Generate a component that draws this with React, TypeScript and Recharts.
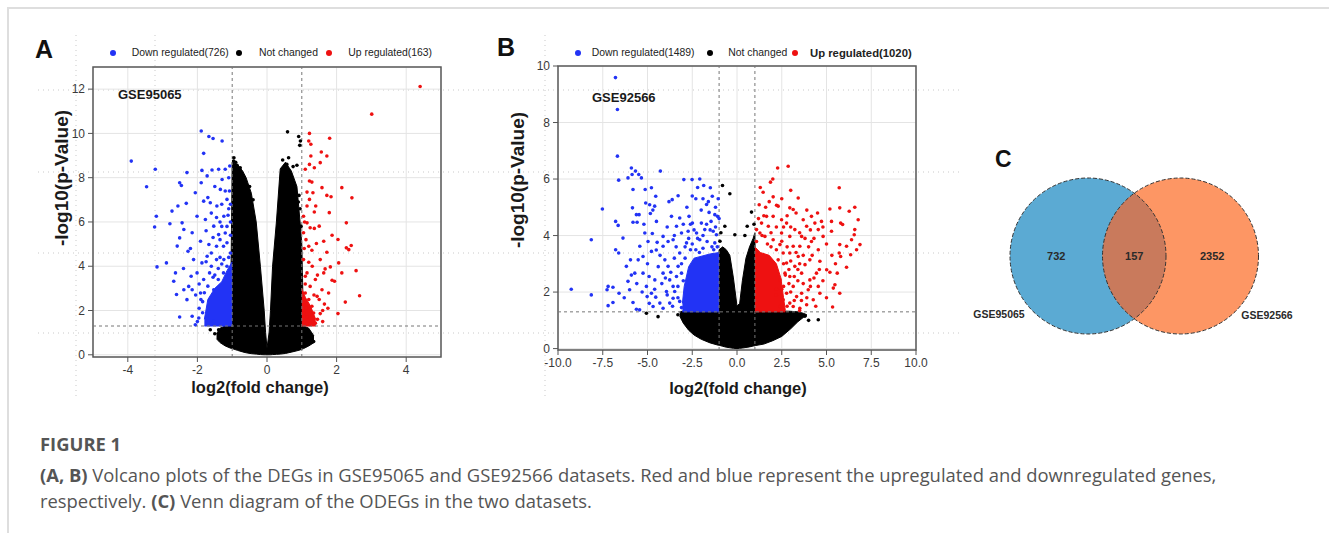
import React from "react";
import {
  ComposedChart, ScatterChart, Area, Scatter, XAxis, YAxis, CartesianGrid,
  ReferenceLine, ReferenceArea,
} from "recharts";

type Pt = [number, number];
type Band = [number, number, number][]; // x, low, high of a dense cloud

// ---- Panel A: GSE95065 ----
const aLegend = ["Down regulated(726)", "Not changed", "Up regulated(163)"];
const aXTicks = [-4, -2, 0, 2, 4];
const aYTicks = [0, 2, 4, 6, 8, 10, 12];

const aFlatBand: Band = [
  [-1.45, 0.72, 0.95], [-1.35, 0.55, 1.2], [-1.2, 0.4, 1.3], [-1.05, 0.3, 1.3],
  [-1.0, 0.28, 8.7], [-0.85, 0.2, 8.6], [-0.7, 0.13, 8.3], [-0.6, 0.09, 8.0],
  [-0.45, 0.05, 7.3], [-0.31, 0.03, 6.0], [-0.19, 0.01, 4.0], [-0.08, 0, 2.0],
  [-0.04, 0, 1.0], [0, 0, 0.3], [0.06, 0, 1.0], [0.1, 0, 2.0],
  [0.16, 0.01, 4.0], [0.27, 0.02, 6.0], [0.38, 0.03, 8.4], [0.53, 0.06, 8.7],
  [0.7, 0.12, 8.3], [0.86, 0.18, 7.6], [0.95, 0.22, 6.0], [1.0, 0.25, 5.0],
  [1.05, 0.28, 1.3], [1.2, 0.4, 1.2], [1.35, 0.55, 0.85],
];
const aDownBand: Band = [
  [-1.8, 1.3, 1.6], [-1.7, 1.3, 2.5], [-1.5, 1.3, 3.0], [-1.3, 1.3, 3.3],
  [-1.15, 1.3, 3.8], [-1.0, 1.3, 4.2],
];
const aUpBand: Band = [
  [1.0, 1.3, 3.0], [1.1, 1.3, 2.6], [1.25, 1.3, 2.2], [1.4, 1.3, 1.6],
];
const aFlat: Pt[] = [
  [0.59, 10.07], [0.91, 9.86], [0.96, 9.66], [0.94, 9.46], [0.86, 8.56], [0.57, 8.6],
  [-0.86, 8.56], [-0.77, 8.45], [-0.96, 8.75], [1.34, 0.6], [1.15, 0.68], [-1.39, 1.13],
  [-1.63, 1.13], [-1.5, 0.95], [0.92, 7.2], [0.95, 6.6], [0.98, 5.8], [0.9, 6.9],
  [-0.5, 7.6], [-0.4, 7.0], [0.45, 8.8], [0.62, 8.9], [0.75, 8.5], [-0.95, 8.9], [-0.9, 8.7],
];
const aDown: Pt[] = [
  [-3.9, 8.75], [-3.46, 7.59], [-3.21, 8.38], [-3.18, 6.26], [-3.23, 5.77], [-3.16, 3.97],
  [-2.89, 4.15], [-2.79, 5.92], [-2.68, 3.32], [-2.6, 2.72], [-2.51, 1.71], [-2.63, 3.7],
  [-2.73, 6.49], [-2.56, 6.72], [-2.51, 7.77], [-2.46, 7.65], [-2.58, 4.91], [-2.51, 5.28],
  [-2.44, 5.96], [-2.39, 5.66], [-2.32, 6.84], [-2.3, 8.23], [-2.27, 4.68], [-2.25, 3.09],
  [-2.15, 1.74], [-2.06, 1.36], [-1.96, 1.66], [-1.89, 10.11], [-1.67, 9.86], [-1.55, 9.77],
  [-1.29, 9.66], [-1.82, 9.1], [-1.87, 8.33], [-1.58, 8.35], [-1.39, 8.38], [-1.2, 8.38],
  [-1.07, 8.53], [-1.89, 7.77], [-1.72, 8.08], [-1.29, 7.92], [-2.06, 7.32], [-1.82, 6.94],
  [-1.63, 6.87], [-1.44, 6.72], [-2.01, 6.26], [-1.77, 6.11], [-1.53, 5.81], [-2.15, 5.51],
  [-1.91, 5.13], [-1.67, 4.98], [-1.39, 5.43], [-2.11, 4.3], [-1.87, 4.15], [-1.72, 4.45],
  [-2.01, 3.7], [-1.82, 3.4], [-2.15, 2.94], [-1.91, 2.79], [-1.53, 2.94], [-1.24, 6.26],
  [-1.15, 7.02], [-1.34, 7.47], [-1.15, 5.06], [-1.24, 4.3], [-1.1, 3.7], [-1.72, 1.74],
  [-1.53, 1.51], [-2.3, 2.49], [-2.39, 2.94], [-2.18, 3.55], [-1.45, 4.9], [-1.35, 4.4],
  [-1.6, 4.0], [-1.5, 3.6], [-1.3, 5.8], [-1.2, 5.5], [-1.45, 6.2], [-1.1, 6.6],
  [-1.2, 7.4], [-1.1, 8.0], [-1.95, 3.2], [-1.85, 2.4], [-1.95, 2.1], [-2.0, 1.5],
  [-1.85, 1.9], [-1.65, 3.7], [-1.4, 3.9], [-1.35, 6.0], [-1.55, 5.3], [-1.25, 4.9],
  [-1.6, 6.4], [-1.75, 5.6], [-1.7, 7.1], [-2.2, 4.8], [-2.4, 3.9],
  [-1.05, 3.9], [-1.05, 4.6], [-1.05, 5.4], [-1.05, 6.0], [-1.1, 4.4], [-1.15, 4.0],
  [-1.3, 4.1], [-1.25, 3.7], [-1.4, 3.4], [-1.55, 3.5], [-1.7, 3.1], [-1.8, 2.8],
  [-1.9, 2.5], [-1.45, 4.3], [-1.6, 4.6], [-1.35, 5.2], [-1.15, 5.8], [-1.05, 6.8],
  [-1.08, 7.4], [-1.12, 6.3], [-1.5, 7.6], [-1.3, 6.8], [-1.75, 4.2], [-2.05, 2.7],
];
const aUp: Pt[] = [
  [4.4, 12.12], [3.01, 10.87], [1.22, 10.0], [1.2, 9.66], [1.26, 9.51], [1.8, 9.78],
  [1.56, 9.16], [1.72, 8.98], [1.26, 8.98], [1.53, 8.68], [1.36, 8.45], [1.22, 8.6],
  [1.1, 8.38], [1.22, 7.85], [1.29, 7.8], [1.58, 7.55], [2.15, 7.55], [1.15, 7.35],
  [1.32, 7.32], [1.72, 7.2], [1.84, 7.14], [2.44, 7.09], [1.22, 7.02], [1.15, 6.72],
  [1.4, 6.72], [1.79, 6.42], [1.05, 6.26], [1.36, 6.45], [1.15, 5.96], [2.28, 5.96],
  [1.5, 5.81], [1.24, 5.74], [1.36, 5.71], [1.05, 5.51], [1.87, 5.4], [1.63, 5.13],
  [2.04, 5.21], [2.42, 4.94], [2.28, 4.83], [2.35, 4.75], [1.42, 5.03], [1.29, 4.72],
  [1.72, 4.63], [1.53, 4.3], [1.2, 4.18], [2.06, 4.15], [1.82, 3.97], [1.67, 3.88],
  [1.63, 3.7], [2.56, 3.8], [2.15, 3.7], [1.15, 3.7], [1.39, 3.4], [1.87, 3.37],
  [1.94, 3.32], [1.24, 3.09], [1.58, 2.94], [1.77, 2.79], [2.66, 2.67], [1.44, 2.64],
  [1.1, 2.79], [2.25, 2.38], [1.65, 2.29], [1.29, 2.19], [2.04, 1.86], [1.53, 1.86],
  [1.15, 1.71], [1.39, 1.43], [1.24, 1.38], [1.05, 1.89], [1.13, 2.11], [1.34, 1.89],
  [1.05, 4.3], [1.1, 3.55], [1.08, 6.0], [1.12, 5.2], [1.2, 4.9], [1.07, 4.8],
  [1.3, 4.0], [1.45, 3.6], [1.1, 3.2], [1.2, 2.5], [1.35, 2.7], [1.5, 2.5],
  [1.6, 2.0], [1.75, 2.1], [1.45, 1.6], [1.6, 1.5], [1.08, 1.5],
];

// ---- Panel B: GSE92566 ----
const bLegend = ["Down regulated(1489)", "Not changed", "Up regulated(1020)"];
const bXTicks = [-10, -7.5, -5, -2.5, 0, 2.5, 5, 7.5, 10];
const bYTicks = [0, 2, 4, 6, 8, 10];

const bFlatBand: Band = [
  [-3.2, 1.15, 1.3], [-3.0, 0.9, 1.33], [-2.7, 0.65, 1.33], [-2.4, 0.48, 1.33],
  [-2.0, 0.33, 1.33], [-1.5, 0.2, 1.33], [-1.05, 0.12, 1.33], [-1.0, 0.12, 3.5],
  [-0.8, 0.08, 3.6], [-0.6, 0.05, 3.5], [-0.4, 0.03, 3.3], [-0.2, 0.01, 2.5],
  [0, 0, 1.5], [0.15, 0.01, 1.6], [0.3, 0.02, 2.4], [0.5, 0.04, 3.2],
  [0.7, 0.06, 3.6], [0.9, 0.09, 3.9], [1.0, 0.1, 4.1], [1.05, 0.11, 1.33],
  [1.5, 0.16, 1.33], [2.0, 0.28, 1.33], [2.5, 0.43, 1.33], [3.0, 0.7, 1.32],
  [3.4, 0.95, 1.3], [3.7, 1.1, 1.25], [3.9, 1.15, 1.2],
];
const bDownBand: Band = [
  [-3.05, 1.3, 1.6], [-2.95, 1.3, 2.2], [-2.7, 1.3, 2.9], [-2.4, 1.3, 3.2],
  [-1.5, 1.3, 3.35], [-1.0, 1.3, 3.4],
];
const bUpBand: Band = [
  [1.0, 1.3, 3.6], [1.3, 1.3, 3.4], [1.8, 1.3, 3.3], [2.2, 1.3, 3.0],
  [2.45, 1.3, 2.5], [2.6, 1.3, 1.8], [2.7, 1.3, 1.35],
];
const bFlat: Pt[] = [
  [-0.81, 5.77], [-0.4, 5.48], [0.81, 4.83], [-0.68, 4.33], [-0.12, 4.03], [0.57, 4.33],
  [4.54, 1.02], [-5.06, 1.25], [-4.41, 1.13], [0.44, 4.0], [-0.95, 3.8], [-0.9, 4.1],
  [0.95, 4.4], [-3.3, 1.2], [3.8, 1.15], [4.0, 1.0],
];
const bDown: Pt[] = [
  [-6.79, 9.59], [-6.68, 8.46], [-6.68, 6.81], [-6.61, 5.96], [-7.52, 4.94], [-8.14, 3.85],
  [-9.26, 2.1], [-8.14, 1.9], [-7.2, 2.2], [-7.26, 2.08], [-6.93, 2.17], [-7.2, 1.52],
  [-6.93, 1.63], [-6.78, 4.5], [-6.64, 4.36], [-6.37, 3.91], [-6.78, 3.5], [-6.61, 3.38],
  [-6.59, 1.96], [-6.18, 2.91], [-6.09, 2.38], [-6.0, 2.08], [-5.9, 6.39], [-6.09, 6.04],
  [-5.86, 6.16], [-5.67, 6.28], [-5.49, 6.16], [-5.34, 6.04], [-5.81, 5.63], [-5.84, 4.98],
  [-5.62, 4.74], [-5.47, 4.74], [-5.81, 4.47], [-5.58, 4.47], [-5.95, 3.14], [-5.71, 2.67],
  [-5.81, 1.63], [-5.62, 1.39], [-5.44, 1.37], [-5.13, 5.63], [-4.78, 5.69], [-4.54, 5.39],
  [-5.1, 5.15], [-4.88, 5.09], [-4.6, 5.04], [-4.84, 4.78], [-5.15, 4.09], [-4.73, 4.07],
  [-4.97, 3.79], [-4.46, 3.76], [-5.43, 3.62], [-5.25, 3.26], [-4.78, 3.44], [-4.28, 6.28],
  [-4.51, 3.49], [-5.52, 3.14], [-5.25, 2.67], [-4.91, 2.55], [-4.59, 2.43], [-5.06, 2.2],
  [-4.78, 1.96], [-4.54, 1.82], [-5.02, 1.84], [-4.31, 1.61], [-4.13, 1.43], [-4.69, 1.49],
  [-4.13, 3.97], [-4.13, 3.62], [-3.85, 3.79], [-3.66, 4.68], [-4.03, 3.14], [-3.85, 2.91],
  [-4.13, 2.67], [-3.76, 2.43], [-3.57, 2.2], [-3.94, 2.02], [-3.57, 1.78], [-3.76, 1.61],
  [-3.29, 5.41], [-3.62, 5.27], [-3.2, 4.62], [-3.38, 4.33], [-3.1, 4.09], [-3.57, 3.85],
  [-3.2, 3.38], [-3.29, 2.91], [-3.38, 2.55], [-3.1, 2.67], [-3.48, 2.02], [-3.2, 1.67],
  [-2.97, 5.98], [-2.51, 5.98], [-2.08, 6.0], [-1.86, 5.77], [-1.49, 5.69], [-1.38, 5.39],
  [-2.68, 4.68], [-2.49, 4.44], [-1.99, 4.44], [-1.56, 4.82], [-1.24, 4.74], [-1.09, 4.68],
  [-2.73, 4.15], [-2.26, 4.09], [-1.8, 4.21], [-1.33, 4.15], [-1.15, 4.03], [-2.82, 3.74],
  [-2.08, 3.85], [-1.67, 3.79], [-1.24, 3.74], [-2.9, 3.2], [-3.0, 2.4], [-2.6, 3.5],
  [-1.9, 3.55], [-1.4, 3.6], [-3.1, 1.45], [-2.3, 5.3], [-1.7, 5.1],
  [-2.9, 3.6], [-2.7, 3.9], [-2.5, 3.7], [-2.3, 3.5], [-2.1, 3.4], [-1.9, 4.0],
  [-1.7, 4.4], [-1.5, 4.2], [-1.3, 3.5], [-1.1, 3.6], [-1.2, 4.3], [-1.45, 4.5],
  [-2.4, 4.2], [-2.2, 3.9], [-2.6, 4.4], [-2.0, 4.9], [-1.6, 5.2], [-1.2, 5.0],
  [-1.05, 5.3], [-1.0, 4.6], [-3.5, 3.2], [-3.7, 2.7], [-3.3, 2.2], [-3.6, 1.5],
  [-3.9, 1.9], [-4.2, 2.3], [-4.4, 2.9], [-4.0, 2.5], [-4.3, 3.3], [-3.4, 3.6],
  [-3.9, 4.3], [-4.5, 4.5], [-5.0, 3.0], [-5.3, 2.0], [-4.9, 1.6], [-5.6, 2.3],
  [-5.9, 2.6], [-6.3, 1.8], [-5.2, 4.4], [-4.7, 4.9], [-3.8, 5.2], [-3.5, 4.0],
  [-3.0, 4.4], [-2.8, 5.0], [-2.5, 5.4], [-2.2, 5.7], [-1.9, 5.3], [-3.1, 3.0],
  [-3.3, 1.8], [-4.6, 2.1],
];
const bUp: Pt[] = [
  [2.27, 6.39], [2.86, 6.45], [1.87, 5.89], [2.02, 5.37], [1.46, 5.53], [3.42, 5.33],
  [1.24, 5.09], [2.21, 5.07], [2.3, 5.04], [2.95, 4.98], [3.14, 4.92], [5.71, 5.69],
  [5.19, 4.94], [5.74, 4.98], [6.58, 5.0], [6.27, 4.86], [6.77, 4.56], [4.72, 4.5],
  [5.28, 4.5], [5.79, 4.44], [5.9, 4.39], [6.58, 4.21], [6.55, 4.03], [6.4, 3.85],
  [6.87, 3.68], [6.68, 3.5], [6.35, 3.32], [6.12, 3.62], [5.74, 3.68], [5.71, 3.38],
  [5.79, 3.26], [5.28, 4.15], [4.81, 3.97], [4.54, 4.21], [4.35, 4.44], [4.16, 4.68],
  [3.7, 4.56], [3.89, 4.33], [4.16, 3.79], [4.54, 3.5], [4.63, 3.09], [5.01, 2.79],
  [5.19, 2.7], [6.12, 2.88], [5.6, 2.67], [5.47, 2.26], [5.38, 2.14], [5.74, 1.96],
  [5.34, 1.47], [4.44, 2.67], [4.63, 1.96], [4.54, 2.2], [4.26, 1.73], [3.89, 1.55],
  [3.51, 1.43], [3.14, 1.49], [3.61, 1.96], [3.98, 2.08], [4.07, 2.43], [3.61, 2.67],
  [3.8, 2.97], [4.07, 3.14], [3.42, 3.26], [3.51, 3.62], [3.61, 3.97], [3.23, 4.21],
  [2.77, 4.44], [2.49, 4.56], [2.02, 4.68], [1.65, 4.68], [1.37, 4.44], [1.75, 4.33],
  [2.49, 4.09], [2.95, 3.97], [3.14, 3.62], [2.95, 3.38], [2.77, 3.03], [3.23, 2.91],
  [2.95, 2.55], [3.14, 2.2], [2.77, 1.96], [3.33, 1.84], [2.58, 1.73], [2.95, 1.61],
  [2.4, 1.49], [1.28, 4.09], [1.09, 3.79], [1.56, 3.97], [2.02, 3.85], [2.4, 3.68],
  [2.58, 3.38], [2.3, 3.14], [2.68, 2.67], [2.4, 2.43], [1.09, 4.21], [2.2, 2.1],
  [2.6, 2.2], [3.4, 2.4], [1.9, 3.6], [2.8, 3.6],
  [2.6, 3.0], [2.7, 2.6], [2.9, 2.3], [3.0, 2.0], [3.2, 1.7], [2.8, 1.5],
  [3.6, 1.7], [3.9, 1.8], [4.1, 2.2], [4.3, 2.5], [3.7, 2.3], [3.4, 2.8],
  [3.0, 3.1], [3.3, 3.4], [3.7, 3.3], [4.0, 3.6], [4.3, 3.9], [3.5, 4.1],
  [3.0, 4.3], [2.6, 4.3], [2.2, 4.3], [1.9, 4.1], [1.5, 4.7], [1.2, 4.6],
  [1.4, 4.0], [1.7, 3.7], [2.2, 3.5], [2.5, 3.8], [2.8, 4.7], [3.3, 4.8],
  [3.9, 4.9], [4.5, 4.8], [4.8, 4.3], [5.0, 3.7], [5.3, 3.3], [5.5, 3.0],
  [4.8, 2.4], [5.0, 1.8], [4.4, 1.5], [3.5, 1.35], [2.2, 1.9], [2.5, 2.1],
  [2.9, 2.8], [3.2, 2.55], [3.5, 3.0], [4.2, 3.3], [4.6, 2.8], [1.8, 5.2],
  [2.5, 5.3], [3.0, 5.6], [1.6, 5.0], [1.3, 5.7], [2.0, 6.0], [4.1, 4.2], [3.8, 3.9],
];

// ---- Panel C: Venn ----
const vennSets = ["GSE95065", "GSE92566"];
const vennCounts = [732, 157, 2352]; // only first, both, only second

// build one row list for the range areas (each key only where its band is defined)
function bandRows(bands: Record<string, Band>) {
  const rows: any[] = [];
  Object.entries(bands).forEach(([key, band]) => {
    band.forEach(([x, lo, hi]) => rows.push({ x, [key]: [lo, hi] }));
  });
  return rows.sort((a, b) => a.x - b.x);
}

const toXY = (pts: Pt[]) => pts.map(([x, y]) => ({ x, y }));
const dot = (color: string, r: number) => (p: any) =>
  <circle cx={p.cx} cy={p.cy} r={r} fill={color} />;

const BLUE = "#2233f5";
const RED = "#ee1111";
const BLACK = "#000000";
const TICK = { fontSize: 12, fill: "#3a3a3a", fontFamily: "Liberation Sans, Arial, sans-serif" };

interface VolcanoProps {
  left: number; top: number; width: number; height: number;
  margin: { top: number; right: number; bottom: number; left: number };
  yAxisWidth: number;
  xDomain: [number, number]; yDomain: [number, number];
  xTicks: number[]; yTicks: number[];
  fmt: (v: number) => string;
  flatBand: Band; downBand: Band; upBand: Band;
  flat: Pt[]; down: Pt[]; up: Pt[];
}

function Volcano(p: VolcanoProps) {
  const rows = bandRows({ flat: p.flatBand, down: p.downBand, up: p.upBand });
  const area = (key: string, color: string) => (
    <Area dataKey={key} type="linear" stroke={color} strokeWidth={1} strokeLinejoin="round"
      fill={color} fillOpacity={1} connectNulls dot={false} activeDot={false}
      isAnimationActive={false} legendType="none" />
  );
  return (
    <div style={{ position: "absolute", left: p.left, top: p.top }}>
      <ComposedChart width={p.width} height={p.height} data={rows} margin={p.margin}>
        <CartesianGrid stroke="#e4e4e4" strokeWidth={1} />
        <XAxis type="number" dataKey="x" domain={p.xDomain} ticks={p.xTicks} interval={0}
          allowDataOverflow tickFormatter={p.fmt} tick={TICK} axisLine={false}
          tickLine={{ stroke: "#555" }} tickSize={5} tickMargin={3} height={30} />
        <YAxis type="number" domain={p.yDomain} ticks={p.yTicks} interval={0}
          allowDataOverflow tick={TICK} axisLine={false}
          tickLine={{ stroke: "#555" }} tickSize={5} tickMargin={3} width={p.yAxisWidth} />
        <ReferenceLine x={-1} stroke="#777" strokeDasharray="3 3" />
        <ReferenceLine x={1} stroke="#777" strokeDasharray="3 3" />
        <ReferenceLine y={1.3} stroke="#777" strokeDasharray="3 3" />
        {area("flat", BLACK)}
        <Scatter data={toXY(p.flat)} dataKey="y" shape={dot(BLACK, 1.8)} isAnimationActive={false} />
        {area("down", BLUE)}
        <Scatter data={toXY(p.down)} dataKey="y" shape={dot(BLUE, 1.8)} isAnimationActive={false} />
        {area("up", RED)}
        <Scatter data={toXY(p.up)} dataKey="y" shape={dot(RED, 1.8)} isAnimationActive={false} />
        <ReferenceArea x1={p.xDomain[0]} x2={p.xDomain[1]} y1={p.yDomain[0]} y2={p.yDomain[1]}
          fill="none" stroke="#5a5a5a" strokeWidth={1.5} />
      </ComposedChart>
    </div>
  );
}

function Legend({ labels, dots, texts, boldLast }: { labels: string[]; dots: number[]; texts: number[]; boldLast?: boolean }) {
  const colors = [BLUE, BLACK, RED];
  return (
    <>
      {labels.map((l, i) => (
        <React.Fragment key={l}>
          <div style={{ position: "absolute", left: dots[i] - 3, top: 50, width: 6, height: 6, borderRadius: 3, background: colors[i] }} />
          <div style={{
            position: "absolute", left: texts[i], top: 45, lineHeight: "16px", whiteSpace: "nowrap",
            fontSize: boldLast && i === 2 ? 11.3 : 10.4, fontWeight: boldLast && i === 2 ? 700 : 400, color: "#222",
          }}>{l}</div>
        </React.Fragment>
      ))}
    </>
  );
}

function Venn() {
  // layout of the two circles (px in the chart, 1 unit = 1 px)
  const R = 78, cy = 106, c1 = 128, c2 = 220.5;
  const mid = (c1 + c2) / 2;
  const h = Math.sqrt(R * R - ((c2 - c1) / 2) ** 2);
  const circles = [{ x: c1, y: cy, fill: "#5baad3" }, { x: c2, y: cy, fill: "#fd9664" }];
  const counts = [
    { x: (c1 - R + c2 - R) / 2, y: cy, t: vennCounts[0] },
    { x: mid, y: cy, t: vennCounts[1] },
    { x: (c1 + R + c2 + R) / 2, y: cy, t: vennCounts[2] },
  ];
  const names = [{ x: c1 - 89, y: cy + 58, t: vennSets[0] }, { x: c2 + 86.5, y: cy + 59, t: vennSets[1] }];
  const txt = (size: number) => (q: any) => (
    <text x={q.cx} y={q.cy} textAnchor="middle" dominantBaseline="central" fontSize={size}
      fontWeight={700} fill="#2a2a2a" fontFamily="Liberation Sans, Arial, sans-serif">{q.payload.t}</text>
  );
  return (
    <div style={{ position: "absolute", left: 960, top: 150 }}>
      <ScatterChart width={340} height={220} margin={{ top: 0, right: 0, bottom: 0, left: 0 }}>
        <XAxis type="number" dataKey="x" domain={[0, 340]} hide />
        <YAxis type="number" dataKey="y" domain={[0, 220]} reversed hide />
        <Scatter data={circles} isAnimationActive={false}
          shape={(q: any) => <circle cx={q.cx} cy={q.cy} r={R} fill={q.payload.fill} />} />
        <Scatter data={[{ x: mid, y: cy }]} isAnimationActive={false}
          shape={(q: any) => (
            <path d={`M${q.cx},${q.cy - h} A${R},${R} 0 0 1 ${q.cx},${q.cy + h} A${R},${R} 0 0 1 ${q.cx},${q.cy - h} Z`}
              fill="#c97a5c" />
          )} />
        <Scatter data={circles} isAnimationActive={false}
          shape={(q: any) => <circle cx={q.cx} cy={q.cy} r={R} fill="none" stroke="#333" strokeWidth={1} strokeDasharray="4 2" />} />
        <Scatter data={counts} isAnimationActive={false} shape={txt(11)} />
        <Scatter data={names} isAnimationActive={false} shape={txt(10.5)} />
      </ScatterChart>
    </div>
  );
}

export default function App() {
  const bold: React.CSSProperties = { fontWeight: 700 };
  return (
    <div style={{
      position: "absolute", left: 0, top: 0, width: 1329, height: 533, background: "#fff",
      overflow: "hidden", fontFamily: "Liberation Sans, Arial, sans-serif",
    }}>
      <div style={{ position: "absolute", left: 7, top: 7, width: 1330, height: 530, borderTop: "2px solid #dedede", borderLeft: "2px solid #dedede" }} />
      {/* faint dotted guide lines of the original figure */}
      <svg width={1329} height={533} style={{ position: "absolute", left: 0, top: 0 }}>
        {[90, 172, 253, 333].map((y) => (
          <line key={y} x1={38} x2={960} y1={y} y2={y} stroke="#c9c9c9" strokeDasharray="1 4" />
        ))}
        {[76, 155, 545].map((x) => (
          <line key={x} x1={x} x2={x} y1={35} y2={400} stroke="#c9c9c9" strokeDasharray="1 4" />
        ))}
      </svg>

      <div style={{ position: "absolute", left: 35, top: 35, fontSize: 25, fontWeight: 700, color: "#111" }}>A</div>
      <div style={{ position: "absolute", left: 497, top: 33, fontSize: 25, fontWeight: 700, color: "#111" }}>B</div>
      <div style={{ position: "absolute", left: 995, top: 146, fontSize: 23, fontWeight: 700, color: "#111" }}>C</div>

      <Legend labels={aLegend} dots={[112.7, 239.3, 329.3]} texts={[131.7, 259, 348.3]} />
      <Legend labels={bLegend} dots={[578.3, 710, 795]} texts={[591.7, 728.3, 810]} boldLast />

      <Volcano left={30} top={40} width={430} height={370}
        margin={{ top: 27, right: 19, bottom: 23, left: 0 }} yAxisWidth={63}
        xDomain={[-5, 5]} yDomain={[-0.1, 13]} xTicks={aXTicks} yTicks={aYTicks}
        fmt={(v) => String(v)}
        flatBand={aFlatBand} downBand={aDownBand} upBand={aUpBand}
        flat={aFlat} down={aDown} up={aUp} />
      <Volcano left={490} top={40} width={450} height={360}
        margin={{ top: 26, right: 24, bottom: 20, left: 0 }} yAxisWidth={68}
        xDomain={[-10, 10]} yDomain={[-0.05, 10]} xTicks={bXTicks} yTicks={bYTicks}
        fmt={(v) => v.toFixed(1)}
        flatBand={bFlatBand} downBand={bDownBand} upBand={bUpBand}
        flat={bFlat} down={bDown} up={bUp} />

      <div style={{ position: "absolute", left: 118, top: 87, fontSize: 13, fontWeight: 700, color: "#1a1a1a" }}>GSE95065</div>
      <div style={{ position: "absolute", left: 592, top: 90, fontSize: 13, fontWeight: 700, color: "#1a1a1a" }}>GSE92566</div>

      {/* axis titles */}
      <div style={{ position: "absolute", left: 62, top: 178, transform: "translate(-50%,-50%) rotate(-90deg)", fontSize: 19, fontWeight: 700, whiteSpace: "nowrap", color: "#1a1a1a" }}>-log10(p-Value)</div>
      <div style={{ position: "absolute", left: 518, top: 180, transform: "translate(-50%,-50%) rotate(-90deg)", fontSize: 19, fontWeight: 700, whiteSpace: "nowrap", color: "#1a1a1a" }}>-log10(p-Value)</div>
      <div style={{ position: "absolute", left: 260, top: 387, transform: "translate(-50%,-50%)", fontSize: 16.5, fontWeight: 700, whiteSpace: "nowrap", color: "#1a1a1a" }}>log2(fold change)</div>
      <div style={{ position: "absolute", left: 738, top: 388, transform: "translate(-50%,-50%)", fontSize: 16.5, fontWeight: 700, whiteSpace: "nowrap", color: "#1a1a1a" }}>log2(fold change)</div>

      <Venn />

      <div style={{ position: "absolute", left: 40, top: 434, fontFamily: "'Open Sans', sans-serif", color: "#555", fontSize: 18.4 }}>
        <div style={{ ...bold, lineHeight: "20px" }}>FIGURE 1</div>
        <div style={{ lineHeight: "26px", marginTop: 8, whiteSpace: "nowrap" }}>
          <span style={bold}>(A, B)</span> Volcano plots of the DEGs in GSE95065 and GSE92566 datasets. Red and blue represent the upregulated and downregulated genes,<br />
          respectively. <span style={bold}>(C)</span> Venn diagram of the ODEGs in the two datasets.
        </div>
      </div>
    </div>
  );
}
